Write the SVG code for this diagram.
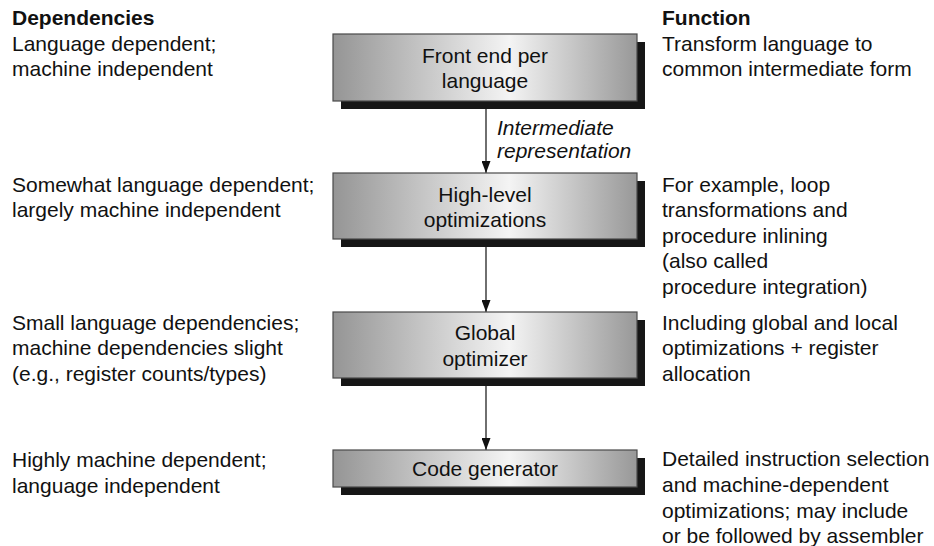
<svg xmlns="http://www.w3.org/2000/svg" width="934" height="546" viewBox="0 0 934 546">
<style>
text{font-family:"Liberation Sans",Arial,Helvetica,sans-serif;font-size:21px;fill:#111}
.h{font-weight:bold}
.c{text-anchor:middle}
.i{font-style:italic}
.box{fill:url(#g);stroke:#4a4a4a;stroke-width:1.2}
.sh{fill:#161616}
.ln{stroke:#222;stroke-width:1.3;fill:none}
</style>
<defs>
<linearGradient id="g" x1="0" y1="0" x2="1" y2="0">
<stop offset="0" stop-color="#959595"/>
<stop offset="0.58" stop-color="#f4f4f4"/>
<stop offset="1" stop-color="#989898"/>
</linearGradient>
<marker id="ah" markerWidth="12" markerHeight="9" refX="12" refY="4.5" orient="auto" markerUnits="userSpaceOnUse" viewBox="0 0 12 9">
<path d="M0,0 L12,4.5 L0,9 Z" fill="#111"/>
</marker>
</defs>
<rect width="934" height="546" fill="#fff"/>

<g id="headings">
<text class="h" x="12" y="25">Dependencies</text>
<text class="h" x="662" y="25">Function</text>
</g>

<g id="dep1"><text x="12" y="51">Language dependent;</text><text x="12" y="76">machine independent</text></g>
<g id="fun1"><text x="662" y="51">Transform language to</text><text x="662" y="76">common intermediate form</text></g>

<g id="dep2"><text x="12" y="192">Somewhat language dependent;</text><text x="12" y="217">largely machine independent</text></g>
<g id="fun2"><text x="662" y="192">For example, loop</text><text x="662" y="217">transformations and</text><text x="662" y="243">procedure inlining</text><text x="662" y="268">(also called</text><text x="662" y="294">procedure integration)</text></g>

<g id="dep3"><text x="12" y="330">Small language dependencies;</text><text x="12" y="355">machine dependencies slight</text><text x="12" y="381">(e.g., register counts/types)</text></g>
<g id="fun3"><text x="662" y="330">Including global and local</text><text x="662" y="355">optimizations + register</text><text x="662" y="381">allocation</text></g>

<g id="dep4"><text x="12" y="467">Highly machine dependent;</text><text x="12" y="493">language independent</text></g>
<g id="fun4"><text x="662" y="466">Detailed instruction selection</text><text x="662" y="492">and machine-dependent</text><text x="662" y="518">optimizations; may include</text><text x="662" y="543">or be followed by assembler</text></g>

<g id="connectors">
<line class="ln" x1="486" y1="109" x2="486" y2="173" marker-end="url(#ah)"/>
<line class="ln" x1="486" y1="247" x2="486" y2="312" marker-end="url(#ah)"/>
<line class="ln" x1="486" y1="386" x2="486" y2="450" marker-end="url(#ah)"/>
<text class="i" x="497" y="135">Intermediate</text>
<text class="i" x="497" y="158">representation</text>
</g>

<g id="frontend">
<rect class="sh" x="341" y="42" width="304" height="67"/>
<rect class="box" x="333" y="34" width="304" height="67"/>
<text class="c" x="485" y="63">Front end per</text>
<text class="c" x="485" y="88">language</text>
</g>
<g id="highlevel">
<rect class="sh" x="341" y="181" width="304" height="66"/>
<rect class="box" x="333" y="173" width="304" height="66"/>
<text class="c" x="485" y="202">High-level</text>
<text class="c" x="485" y="227">optimizations</text>
</g>
<g id="global">
<rect class="sh" x="341" y="320" width="304" height="66"/>
<rect class="box" x="333" y="312" width="304" height="66"/>
<text class="c" x="485" y="340">Global</text>
<text class="c" x="485" y="366">optimizer</text>
</g>
<g id="codegen">
<rect class="sh" x="341" y="458" width="304" height="37"/>
<rect class="box" x="333" y="450" width="304" height="37"/>
<text class="c" x="485" y="476">Code generator</text>
</g>
</svg>
